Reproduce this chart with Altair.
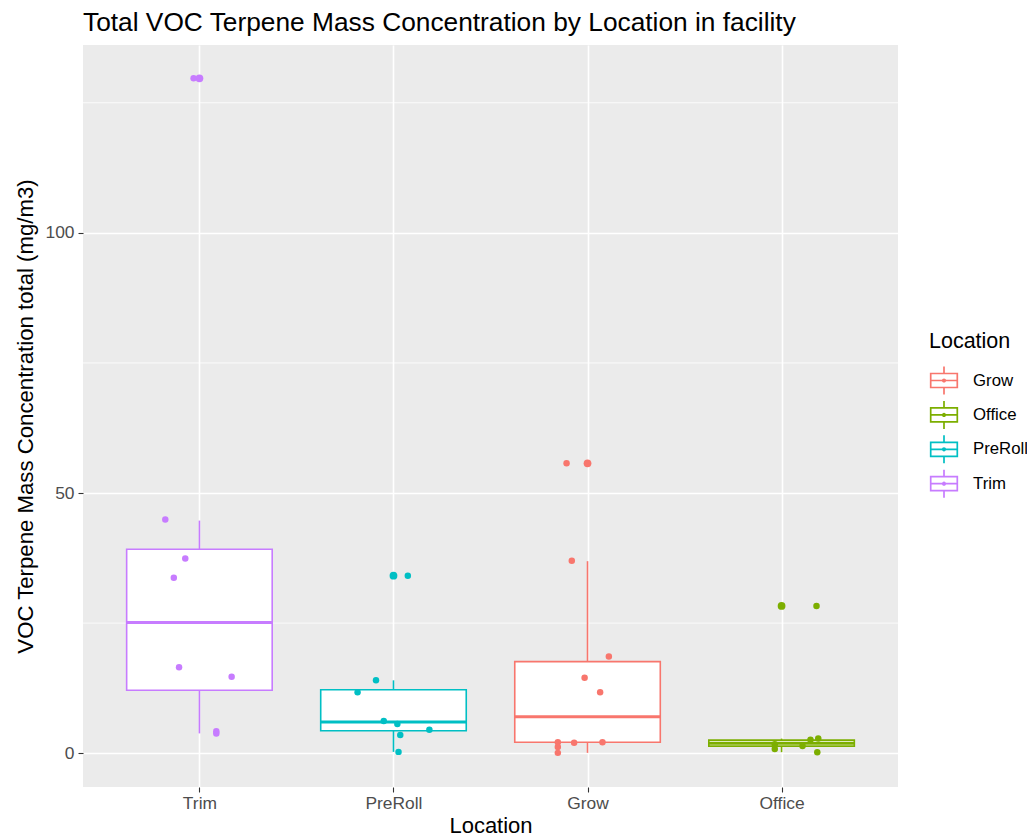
import altair as alt
import pandas as pd

# ---- data ----
categories = ["Trim", "PreRoll", "Grow", "Office"]
legend_order = ["Grow", "Office", "PreRoll", "Trim"]
legend_colors = ["#F8766D", "#7CAE00", "#00BFC4", "#C77CFF"]

trim_values = [129.7, 44.9, 37.4, 33.7, 16.5, 14.7, 4.2, 3.8]
trim_jitter = [-0.03, -0.176, -0.073, -0.132, -0.105, 0.166, 0.087, 0.087]
preroll_values = [34.1, 14.0, 11.7, 6.2, 5.6, 4.5, 3.5, 0.25]
preroll_jitter = [0.074, -0.09, -0.185, -0.05, 0.02, 0.185, 0.035, 0.026]
grow_values = [55.7, 37.0, 18.6, 14.5, 11.7, 2.1, 1.2, 0.06, 2.0, 2.1]
grow_jitter = [-0.108, -0.081, 0.11, -0.015, 0.065, -0.153, -0.153, -0.153, -0.069, 0.077]
office_values = [28.3, 1.7, 0.8, 1.4, 2.6, 2.8, 0.2]
office_jitter = [0.18, -0.035, -0.035, 0.108, 0.149, 0.189, 0.184]

# box statistics per category (order of `categories`)
box_low = [3.8, 0.25, 0.06, 0.2]
box_q1 = [12.1, 4.3, 2.1, 1.35]
box_median = [25.1, 6.0, 7.0, 1.9]
box_q3 = [39.2, 12.2, 17.6, 2.5]
box_high = [44.7, 14.0, 36.9, 2.8]
outlier_location = ["Trim", "PreRoll", "Grow", "Office"]
outlier_values = [129.7, 34.1, 55.7, 28.3]

y_major = [0, 50, 100]
y_minor = [25, 75, 125]

# ---- tables ----
pos = {c: i + 1 for i, c in enumerate(categories)}
col = dict(zip(legend_order, legend_colors))
rows = []
for name, vals, jit in [("Trim", trim_values, trim_jitter),
                        ("PreRoll", preroll_values, preroll_jitter),
                        ("Grow", grow_values, grow_jitter),
                        ("Office", office_values, office_jitter)]:
    for v, j in zip(vals, jit):
        rows.append({"Location": name, "x": pos[name] + j, "value": v, "col": col[name]})
points = pd.DataFrame(rows)

half = 0.375
boxes = pd.DataFrame({
    "Location": categories,
    "x": [pos[c] for c in categories],
    "xlo": [pos[c] - half for c in categories],
    "xhi": [pos[c] + half for c in categories],
    "low": box_low, "q1": box_q1, "median": box_median,
    "q3": box_q3, "high": box_high,
})
outliers = pd.DataFrame({
    "Location": outlier_location,
    "x": [pos[c] for c in outlier_location],
    "value": outlier_values,
    "col": [col[c] for c in outlier_location],
})
minor = pd.DataFrame({"y": y_minor})

label_expr = " : ".join(
    f"datum.value == {pos[c]} ? '{c}'" for c in categories) + " : ''"

FONT = "Liberation Sans"
x_scale = alt.Scale(domain=[0.4, 4.6], nice=False, zero=False)
y_scale = alt.Scale(domain=[-6.5, 136.1], nice=False, zero=False)
color_scale = alt.Scale(domain=legend_order, range=legend_colors)

x_axis = alt.Axis(values=[1, 2, 3, 4], labelExpr=label_expr, title="Location",
                  grid=True, gridColor="white", gridWidth=1.6, domain=False,
                  tickColor="#333333", tickSize=5, tickWidth=1.1,
                  labelFontSize=17.4, labelColor="#4D4D4D", labelFont=FONT,
                  labelPadding=2, titleFontSize=22, titleFontWeight="normal",
                  titleColor="black", titleFont=FONT, titlePadding=4)
y_axis = alt.Axis(values=y_major, title="VOC Terpene Mass Concentration total (mg/m3)",
                  grid=True, gridColor="white", gridWidth=1.6, domain=False,
                  tickColor="#333333", tickSize=5, tickWidth=1.1,
                  labelFontSize=17.4, labelColor="#4D4D4D", labelFont=FONT,
                  labelPadding=4, titleFontSize=22.2, titleFontWeight="normal",
                  titleColor="black", titleFont=FONT, titlePadding=7)

box_symbol = ("M-0.95,-0.5H0.95V0.5H-0.95Z M-0.95,0H0.95 M0,-0.5V-1 M0,0.5V1 "
              "M0.09,0A0.09,0.09,0,1,1,-0.09,0A0.09,0.09,0,1,1,0.09,0Z")
legend = alt.Legend(title="Location", orient="none", legendX=846, legendY=286,
                    symbolType=box_symbol, symbolSize=784, symbolStrokeWidth=1.7,
                    symbolFillColor="white", labelFontSize=16.8, labelFont=FONT,
                    labelColor="black", labelOffset=14, titleFontSize=21.5,
                    titleFont=FONT, titleFontWeight="normal", titleColor="black",
                    titlePadding=13, rowPadding=-1.6, padding=0)

minor_grid = alt.Chart(minor).mark_rule(color="white", strokeWidth=0.8).encode(
    y=alt.Y("y:Q", scale=y_scale, axis=y_axis))

whisk_lo = alt.Chart(boxes).mark_rule(strokeWidth=1.6).encode(
    x=alt.X("x:Q", scale=x_scale, axis=x_axis),
    y=alt.Y("low:Q", scale=y_scale, axis=y_axis), y2="q1:Q",
    stroke=alt.Stroke("Location:N", scale=color_scale, legend=legend))
whisk_hi = alt.Chart(boxes).mark_rule(strokeWidth=1.6).encode(
    x=alt.X("x:Q", scale=x_scale, axis=x_axis),
    y=alt.Y("q3:Q", scale=y_scale, axis=y_axis), y2="high:Q",
    stroke=alt.Stroke("Location:N", scale=color_scale, legend=legend))
box_fill = alt.Chart(boxes).mark_rect(fill="white", strokeWidth=0).encode(
    x=alt.X("xlo:Q", scale=x_scale, axis=x_axis), x2="xhi:Q",
    y=alt.Y("q1:Q", scale=y_scale, axis=y_axis), y2="q3:Q")
box_line = alt.Chart(boxes).mark_rect(filled=False, strokeWidth=1.6).encode(
    x=alt.X("xlo:Q", scale=x_scale, axis=x_axis), x2="xhi:Q",
    y=alt.Y("q1:Q", scale=y_scale, axis=y_axis), y2="q3:Q",
    stroke=alt.Stroke("Location:N", scale=color_scale, legend=legend))
med = alt.Chart(boxes).mark_rule(strokeWidth=3).encode(
    x=alt.X("xlo:Q", scale=x_scale, axis=x_axis), x2="xhi:Q",
    y=alt.Y("median:Q", scale=y_scale, axis=y_axis),
    stroke=alt.Stroke("Location:N", scale=color_scale, legend=legend))
out_pts = alt.Chart(outliers).mark_circle(size=60, opacity=1).encode(
    x=alt.X("x:Q", scale=x_scale, axis=x_axis),
    y=alt.Y("value:Q", scale=y_scale, axis=y_axis),
    color=alt.Color("col:N", scale=None, legend=None))
jit_pts = alt.Chart(points).mark_circle(size=42, opacity=1).encode(
    x=alt.X("x:Q", scale=x_scale, axis=x_axis),
    y=alt.Y("value:Q", scale=y_scale, axis=y_axis),
    color=alt.Color("col:N", scale=None, legend=None))

chart = alt.layer(minor_grid, whisk_lo, whisk_hi, box_fill, box_line, med,
                  out_pts, jit_pts).properties(
    width=815, height=742,
    title=alt.TitleParams("Total VOC Terpene Mass Concentration by Location in facility",
                          anchor="start", frame="group", fontSize=26.3, font=FONT,
                          fontWeight="normal", color="black", offset=9),
    autosize=alt.AutoSizeParams(type="none"),
    padding={"left": 75, "top": 37, "right": 129, "bottom": 54},
).configure(background="white", font=FONT).configure_view(fill="#EBEBEB", strokeWidth=0)

chart.save("out.html", embed_options={"renderer": "svg", "actions": False})
